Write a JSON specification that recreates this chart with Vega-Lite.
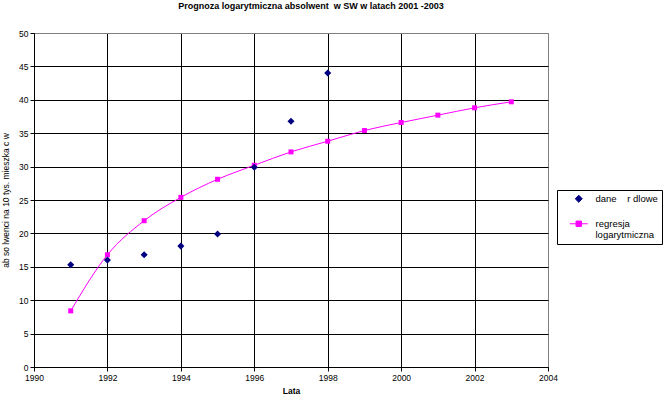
{
  "$schema": "https://vega.github.io/schema/vega-lite/v6.json",
  "width": 514,
  "height": 334,
  "autosize": {"type": "none"},
  "padding": {"left": 34, "top": 33, "right": 119, "bottom": 33},
  "background": "white",
  "config": {
    "font": "Liberation Sans",
    "view": {"stroke": "#808080", "strokeWidth": 1},
    "axis": {"labelFont": "Liberation Sans", "titleFont": "Liberation Sans", "labelColor": "black", "titleColor": "black", "labelFontSize": 8.5, "titleFontSize": 8.5, "titleFontWeight": "bold", "domainColor": "black", "tickColor": "black", "tickSize": 4, "gridColor": "black", "gridOpacity": 1, "gridWidth": 1, "labelPadding": 2, "labelFlush": false}
  },
  "title": {"text": "Prognoza logarytmiczna absolwent\u00a0 w SW w latach 2001 -2003", "fontSize": 9, "fontWeight": "bold", "font": "Liberation Sans", "color": "black", "anchor": "middle", "dx": 20, "offset": 18},
  "data": {"values": [
    {"year": 1991, "value": 15.3, "series": "dane\u00a0\u00a0\u00a0 r dlowe"},
    {"year": 1992, "value": 16.0, "series": "dane\u00a0\u00a0\u00a0 r dlowe"},
    {"year": 1993, "value": 16.8, "series": "dane\u00a0\u00a0\u00a0 r dlowe"},
    {"year": 1994, "value": 18.1, "series": "dane\u00a0\u00a0\u00a0 r dlowe"},
    {"year": 1995, "value": 19.9, "series": "dane\u00a0\u00a0\u00a0 r dlowe"},
    {"year": 1996, "value": 29.9, "series": "dane\u00a0\u00a0\u00a0 r dlowe"},
    {"year": 1997, "value": 36.8, "series": "dane\u00a0\u00a0\u00a0 r dlowe"},
    {"year": 1998, "value": 44.0, "series": "dane\u00a0\u00a0\u00a0 r dlowe"},
    {"year": 1991, "value": 8.4, "series": "regresja logarytmiczna"},
    {"year": 1992, "value": 16.8, "series": "regresja logarytmiczna"},
    {"year": 1993, "value": 21.9, "series": "regresja logarytmiczna"},
    {"year": 1994, "value": 25.4, "series": "regresja logarytmiczna"},
    {"year": 1995, "value": 28.1, "series": "regresja logarytmiczna"},
    {"year": 1996, "value": 30.2, "series": "regresja logarytmiczna"},
    {"year": 1997, "value": 32.2, "series": "regresja logarytmiczna"},
    {"year": 1998, "value": 33.8, "series": "regresja logarytmiczna"},
    {"year": 1999, "value": 35.4, "series": "regresja logarytmiczna"},
    {"year": 2000, "value": 36.6, "series": "regresja logarytmiczna"},
    {"year": 2001, "value": 37.7, "series": "regresja logarytmiczna"},
    {"year": 2002, "value": 38.8, "series": "regresja logarytmiczna"},
    {"year": 2003, "value": 39.7, "series": "regresja logarytmiczna"}
  ]},
  "encoding": {
    "x": {"field": "year", "type": "quantitative", "scale": {"domain": [1990, 2004], "nice": false, "zero": false},
      "axis": {"title": "Lata", "values": [1990, 1992, 1994, 1996, 1998, 2000, 2002, 2004], "format": "d", "titlePadding": 5,
        "gridColor": {"condition": {"test": "datum.value == 2004", "value": "#808080"}, "value": "black"}}},
    "y": {"field": "value", "type": "quantitative", "scale": {"domain": [0, 50], "nice": false},
      "axis": {"title": "ab so lwenci na 10 tys. mieszka c w", "values": [0, 5, 10, 15, 20, 25, 30, 35, 40, 45, 50], "titlePadding": 8, "titleFontWeight": "normal",
        "gridColor": {"condition": {"test": "datum.value == 50", "value": "#808080"}, "value": "black"}}},
    "color": {"field": "series", "type": "nominal",
      "scale": {"domain": ["dane\u00a0\u00a0\u00a0 r dlowe", "regresja logarytmiczna"], "range": ["#000080", "#FF00FF"]},
      "legend": {"title": null, "orient": "none", "legendX": 523, "legendY": 157, "strokeColor": "black", "padding": 4, "fillColor": "white",
        "labelFont": "Liberation Sans", "labelFontSize": 9.5, "labelColor": "black", "labelOffset": 12, "symbolOffset": 13, "symbolSize": 324, "rowPadding": 13, "labelLimit": 200,
        "labelExpr": "datum.label == 'regresja logarytmiczna' ? ['regresja', 'logarytmiczna\u00a0\u00a0\u00a0\u00a0'] : datum.label",
        "symbolStrokeWidth": 1, "symbolOpacity": 1,
        "encode": {"symbols": {"update": {
          "shape": {"signal": "datum.label == 'regresja logarytmiczna' ? 'M-1,0H1M-0.3,-0.3H0.3V0.3H-0.3Z' : 'diamond'"},
          "size": {"signal": "datum.label == 'regresja logarytmiczna' ? 324 : 50"},
          "fill": {"signal": "scale('color', datum.value)"},
          "stroke": {"signal": "scale('color', datum.value)"}
        }}}}
    }
  },
  "layer": [
    {"transform": [{"filter": "datum.series == 'regresja logarytmiczna'"}],
     "mark": {"type": "line", "interpolate": "monotone", "strokeWidth": 1}},
    {"transform": [{"filter": "datum.series == 'regresja logarytmiczna'"}],
     "mark": {"type": "point", "shape": "square", "filled": true, "size": 25, "opacity": 1}},
    {"transform": [{"filter": "datum.series != 'regresja logarytmiczna'"}],
     "mark": {"type": "point", "shape": "diamond", "filled": true, "size": 50, "opacity": 1}}
  ]
}
